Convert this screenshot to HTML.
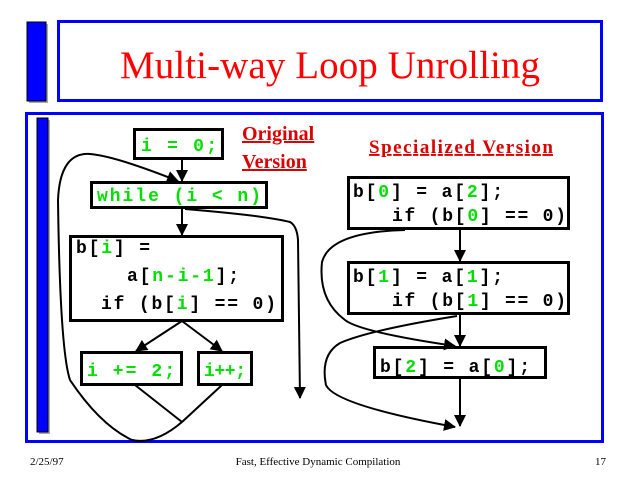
<!DOCTYPE html>
<html><head><style>
html,body{margin:0;padding:0;background:#fff;}
svg{display:block;}
.m{font-family:"Liberation Mono",monospace;font-weight:bold;font-size:18px;}
.g{fill:#00e000;}
</style></head><body>
<svg width="640" height="480" viewBox="0 0 640 480" xmlns="http://www.w3.org/2000/svg">
<defs><marker id="a" markerWidth="12" markerHeight="12" refX="11" refY="6" orient="auto" markerUnits="userSpaceOnUse" viewBox="0 0 12 12"><path d="M0,0 L12,6 L0,12 z" fill="#000"/></marker></defs>
<rect x="29" y="24" width="19" height="79" fill="#aaa"/>
<rect x="27" y="22" width="19" height="79" fill="#0000ff" stroke="#000" stroke-width="1"/>
<rect x="58.5" y="21.5" width="543" height="79" fill="none" stroke="#0000ff" stroke-width="3"/>
<text x="330" y="78" text-anchor="middle" font-family="Liberation Serif,serif" font-size="39" fill="#ff0000" textLength="420">Multi-way Loop Unrolling</text>
<rect x="26.5" y="113.5" width="576" height="328" fill="none" stroke="#0000ff" stroke-width="3"/>
<rect x="39" y="120" width="11" height="314" fill="#aaa"/>
<rect x="37" y="118" width="11" height="314" fill="#0000ff" stroke="#000" stroke-width="1"/>
<g fill="none" stroke="#000" stroke-width="3">
<rect x="134.5" y="129.5" width="88" height="29"/>
<rect x="91.5" y="182.5" width="175" height="25"/>
<rect x="70.5" y="236.5" width="212" height="84"/>
<rect x="81.5" y="352.5" width="100" height="32"/>
<rect x="198.5" y="352.5" width="53" height="32"/>
<rect x="348.5" y="177.5" width="220" height="51"/>
<rect x="348.5" y="262.5" width="220" height="51"/>
<rect x="374.5" y="347.5" width="171" height="30"/>
</g>
<g fill="none" stroke="#000" stroke-width="2">
<line x1="182" y1="159" x2="182" y2="181" marker-end="url(#a)"/>
<line x1="182" y1="208" x2="182" y2="235" marker-end="url(#a)"/>
<line x1="182" y1="321" x2="136" y2="351" marker-end="url(#a)"/>
<line x1="182" y1="321" x2="222" y2="351" marker-end="url(#a)"/>
<line x1="135" y1="385" x2="182" y2="422"/>
<line x1="222" y1="385" x2="182" y2="422"/>
<path d="M182,422 Q155,445 132,440 Q100,425 70,380 Q60,350 58,200 Q60,152 90,154 Q115,156 178,181" marker-end="url(#a)"/>
<path d="M185,209 Q260,215 290,222 Q297,226 298,240 L300,398" marker-end="url(#a)"/>
<line x1="460" y1="229" x2="460" y2="261" marker-end="url(#a)"/>
<line x1="460" y1="314" x2="460" y2="346" marker-end="url(#a)"/>
<line x1="460" y1="378" x2="460" y2="426" marker-end="url(#a)"/>
<path d="M405,230 Q330,232 322,262 Q318,300 345,320 Q360,332 455,346" marker-end="url(#a)"/>
<path d="M457,316 Q370,330 340,343 Q320,355 326,385 Q335,405 455,427" marker-end="url(#a)"/>
</g>
<g class="m">
<text x="141" y="151" class="g" textLength="76">i = 0;</text>
<text x="97" y="201" class="g" textLength="164">while (i &lt; n)</text>
<text x="76" y="253" textLength="74">b[<tspan class="g">i</tspan>] =</text>
<text x="127" y="281" textLength="112">a[<tspan class="g">n-i-1</tspan>];</text>
<text x="101" y="309" textLength="175">if (b[<tspan class="g">i</tspan>] == 0)</text>
<text x="87" y="376" class="g" textLength="88">i += 2;</text>
<text x="204" y="376" class="g" textLength="42">i++;</text>
<text x="353" y="197" textLength="150">b[<tspan class="g">0</tspan>] = a[<tspan class="g">2</tspan>];</text>
<text x="392" y="221" textLength="174">if (b[<tspan class="g">0</tspan>] == 0)</text>
<text x="353" y="282" textLength="150">b[<tspan class="g">1</tspan>] = a[<tspan class="g">1</tspan>];</text>
<text x="392" y="306" textLength="174">if (b[<tspan class="g">1</tspan>] == 0)</text>
<text x="380" y="372" textLength="150">b[<tspan class="g">2</tspan>] = a[<tspan class="g">0</tspan>];</text>
</g>
<g font-family="Liberation Serif,serif" font-weight="bold" font-size="20" fill="#dd0000" text-decoration="underline">
<text x="242" y="140">Original</text>
<text x="242" y="168">Version</text>
<text x="369" y="153" font-size="19" textLength="184">Specialized  Version</text>
</g>
<g font-family="Liberation Serif,serif" font-size="11" fill="#000">
<text x="30" y="465">2/25/97</text>
<text x="318" y="465" text-anchor="middle">Fast, Effective Dynamic Compilation</text>
<text x="595" y="465">17</text>
</g>
</svg>
</body></html>
